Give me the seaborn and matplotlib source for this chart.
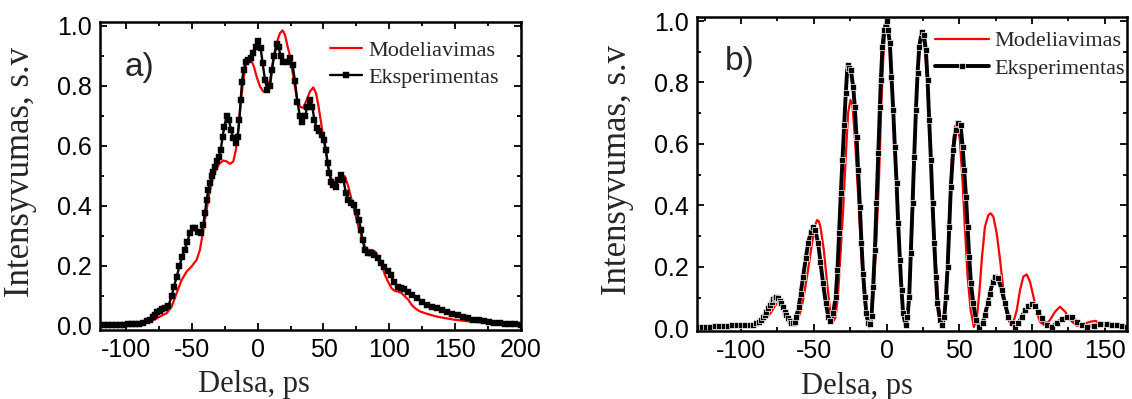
import numpy as np
import pandas as pd
import matplotlib
matplotlib.use("Agg")
import matplotlib.pyplot as plt
import seaborn as sns
from matplotlib.ticker import MultipleLocator

# ---------------- data ----------------
# Panel a) experiment (black, squares)
exp_a_x = [-120, -117, -114, -111, -108, -105, -102, -99, -96, -93, -90, -87, -84.5, -82, -80, -78.2, -76.3,
           -74.4, -72.5, -70.6, -68, -65.5, -63.7, -61.7, -59.6, -57.6, -55.6, -53.6, -51.6, -49.5, -47.5,
           -45.2, -43.2, -41.4, -40.2, -38.9, -37.6, -36.3, -35.1, -33.8, -32.6, -31.3, -29.5, -28.2, -26.7,
           -25.5, -23.7, -21.9, -20.4, -18.6, -16.8, -15.3, -14, -13, -12, -10.7, -9.2, -7.2, -5.2, -3.4,
           -1.6, 0.4, 2.2, 3.7, 5.5, 7.2, 9.3, 10.8, 12.3, 14.3, 15.9, 17.4, 19.4, 21.9, 24.5, 26.5, 28.3,
           30.2, 32.1, 33.9, 35.9, 37.7, 39.7, 41.5, 43, 44.8, 46.8, 48.6, 50.3, 51.9, 53.1, 54.4, 55.9, 57.4,
           59.2, 61.3, 63.3, 65.1, 67.1, 68.9, 70.9, 73.2, 75.2, 77, 78.5, 79.7, 81.5, 83.6, 86, 88.6, 91.2,
           93.7, 96.2, 98.8, 101.3, 103.8, 106.4, 108.9, 111.4, 114.5, 117.5, 120.8, 124.6, 128.4, 132.2,
           136, 140, 144, 148, 152, 156, 160, 164, 168, 172, 176, 180, 184, 188, 192, 196, 200]
exp_a_y = [0.002, 0.002, 0.003, 0.003, 0.003, 0.004, 0.004, 0.005, 0.005, 0.006, 0.007, 0.010, 0.015, 0.020,
           0.028, 0.037, 0.045, 0.051, 0.056, 0.059, 0.067, 0.098, 0.131, 0.164, 0.198, 0.231, 0.253, 0.281,
           0.309, 0.326, 0.326, 0.314, 0.309, 0.337, 0.376, 0.420, 0.453, 0.476, 0.498, 0.514, 0.531, 0.548,
           0.564, 0.587, 0.631, 0.664, 0.698, 0.687, 0.653, 0.626, 0.609, 0.631, 0.687, 0.753, 0.814, 0.853,
           0.881, 0.887, 0.892, 0.909, 0.931, 0.950, 0.926, 0.876, 0.820, 0.787, 0.798, 0.853, 0.898, 0.938,
           0.930, 0.898, 0.881, 0.881, 0.892, 0.870, 0.815, 0.745, 0.698, 0.681, 0.698, 0.731, 0.753, 0.731,
           0.687, 0.659, 0.648, 0.637, 0.620, 0.587, 0.542, 0.509, 0.481, 0.470, 0.464, 0.487, 0.503, 0.487,
           0.442, 0.420, 0.411, 0.403, 0.381, 0.353, 0.320, 0.287, 0.253, 0.242, 0.242, 0.237, 0.226, 0.209,
           0.195, 0.183, 0.168, 0.146, 0.128, 0.126, 0.122, 0.114, 0.103, 0.092, 0.081, 0.070, 0.064, 0.059,
           0.052, 0.045, 0.040, 0.035, 0.030, 0.025, 0.021, 0.018, 0.015, 0.013, 0.011, 0.009, 0.007, 0.006,
           0.005, 0.004]

# Panel a) model (red line)
mod_a_x = [-120, -110, -100, -90, -85, -82, -78, -74.4, -69.3, -65.5, -61.7, -57.9, -54.1, -50.3, -46.5, -44,
           -41.4, -38.9, -36.3, -33.8, -31.3, -28.8, -26.2, -23.7, -21.1, -18.6, -16.6, -14.8, -13, -11, -9.2,
           -7.2, -5.2, -2.9, -0.9, 1.7, 4.2, 6.7, 9.3, 11.8, 14.3, 16.9, 18.9, 20.7, 22.7, 24.5, 27, 29.5,
           32.1, 34.6, 37.2, 39.7, 42.2, 44.3, 46, 47.8, 49.8, 51.9, 53.7, 56.2, 58.7, 61.3, 63.8, 66.3, 68.9,
           71.4, 73.9, 76.5, 79, 81.5, 84, 86.6, 89.1, 91.7, 94.2, 96.7, 99.3, 101.8, 104.3, 106.9, 109.4,
           111.9, 114.5, 117, 119.5, 123.4, 127.2, 131, 136, 142, 150, 160, 170, 180, 190, 200]
mod_a_y = [0.001, 0.002, 0.003, 0.005, 0.009, 0.014, 0.022, 0.031, 0.042, 0.064, 0.109, 0.153, 0.181, 0.198,
           0.220, 0.253, 0.320, 0.387, 0.453, 0.498, 0.526, 0.542, 0.551, 0.548, 0.540, 0.548, 0.587, 0.653,
           0.742, 0.820, 0.864, 0.890, 0.887, 0.864, 0.831, 0.798, 0.781, 0.787, 0.820, 0.887, 0.942, 0.976,
           0.985, 0.970, 0.931, 0.900, 0.831, 0.764, 0.731, 0.726, 0.753, 0.781, 0.795, 0.776, 0.737, 0.687,
           0.631, 0.576, 0.531, 0.487, 0.476, 0.487, 0.503, 0.498, 0.464, 0.420, 0.376, 0.331, 0.298, 0.264,
           0.253, 0.253, 0.248, 0.231, 0.203, 0.170, 0.145, 0.125, 0.116, 0.114, 0.109, 0.098, 0.087, 0.070,
           0.059, 0.048, 0.042, 0.037, 0.031, 0.026, 0.020, 0.015, 0.011, 0.008, 0.006, 0.004]

# Panel b) experiment (black, squares)
exp_b_x = [-130, -127, -124, -121, -118, -115, -112, -109, -106, -103, -100, -97, -94, -91.5, -89.4, -87.5,
           -86, -84.8, -83.7, -82.5, -81.4, -80.2, -79, -77.9, -76.8, -75.6, -74.5, -73.3, -72.2, -71.1, -70,
           -68.8, -67.7, -66.5, -65.4, -64.2, -63, -62, -60.3, -59, -57.3, -55.5, -53.9, -52, -50.5, -48.9,
           -47, -45.4, -43.6, -41.7, -40, -38.5, -36.7, -34.9, -33.7, -32.6, -31.4, -30.3, -29.1, -28, -26.8,
           -25.7, -24.5, -22.9, -21.8, -20.6, -19.5, -18.3, -17.2, -16.1, -14.9, -13.8, -12.6, -11.5, -10.3,
           -9.2, -8, -6.9, -5.7, -4.6, -3.9, -2.8, -1.6, 0, 1.1, 2.3, 3.4, 4.6, 5.7, 6.9, 8, 9.2, 10.3, 11.4,
           13.1, 14.4, 15.6, 16.7, 17.9, 19, 20.2, 21.3, 22.5, 24.1, 25.7, 27, 28.2, 29.3, 30.5, 31.6, 32.8,
           33.9, 35, 36.7, 38.2, 39.7, 40.8, 42, 43.1, 44.2, 45.8, 47.4, 49.3, 50.9, 52.3, 53.4, 54.6, 55.7,
           56.8, 58, 59.6, 61.4, 63.7, 66, 67.6, 69.5, 71, 72.9, 74.5, 76.8, 79.1, 81.4, 83.7, 86, 88.3, 90.6,
           92.9, 95.2, 97.5, 99.8, 102.1, 104.4, 106.6, 110.1, 113.5, 117, 120.4, 123.9, 127.3, 130.7, 134.2,
           137.6, 142.2, 146.8, 151.4, 155, 158.3, 161.5, 165]
exp_b_y = [0.004, 0.004, 0.005, 0.005, 0.006, 0.006, 0.007, 0.008, 0.009, 0.010, 0.010, 0.010, 0.010, 0.012,
           0.016, 0.021, 0.027, 0.035, 0.043, 0.054, 0.065, 0.076, 0.086, 0.094, 0.100, 0.101, 0.097, 0.090,
           0.081, 0.068, 0.054, 0.043, 0.032, 0.024, 0.018, 0.017, 0.021, 0.037, 0.070, 0.113, 0.168, 0.227,
           0.276, 0.314, 0.328, 0.320, 0.276, 0.217, 0.146, 0.081, 0.037, 0.024, 0.048, 0.103, 0.190, 0.309,
           0.439, 0.547, 0.661, 0.765, 0.857, 0.846, 0.840, 0.786, 0.721, 0.623, 0.515, 0.396, 0.276, 0.178,
           0.103, 0.048, 0.016, 0.015, 0.040, 0.135, 0.255, 0.406, 0.569, 0.720, 0.808, 0.916, 0.970, 1.000,
           0.970, 0.927, 0.819, 0.710, 0.591, 0.472, 0.341, 0.222, 0.124, 0.048, 0.010, 0.037, 0.103, 0.244,
           0.406, 0.558, 0.710, 0.830, 0.916, 0.965, 0.955, 0.906, 0.808, 0.678, 0.547, 0.406, 0.276, 0.168,
           0.081, 0.027, 0.010, 0.037, 0.103, 0.200, 0.330, 0.460, 0.580, 0.645, 0.667, 0.660, 0.590, 0.515,
           0.428, 0.330, 0.233, 0.146, 0.081, 0.027, 0.005, 0.016, 0.043, 0.081, 0.113, 0.150, 0.168, 0.162,
           0.124, 0.081, 0.037, 0.016, 0.005, 0.016, 0.037, 0.059, 0.073, 0.079, 0.072, 0.054, 0.032, 0.010,
           0.005, 0.016, 0.029, 0.037, 0.035, 0.021, 0.010, 0.005, 0.008, 0.014, 0.014, 0.012, 0.009, 0.007,
           0.005]

# Panel b) model (red line)
mod_b_x = [-130, -120, -110, -100, -92, -88, -84.9, -82, -79, -76.8, -74.5, -72.5, -71, -69.3, -67.7, -66,
           -64.2, -62.5, -60.8, -59, -57.3, -55.6, -53.9, -52.2, -50.5, -49, -47.7, -46.5, -45.4, -43.1,
           -40.8, -38.5, -36.7, -34.9, -33.3, -31.7, -29.8, -28, -26.4, -24.8, -23.4, -21.8, -20.2, -18.3,
           -16.5, -14.9, -13.3, -11.9, -10.3, -8.7, -6.9, -5.1, -3.7, -2.3, -0.9, 0.4, 1.8, 3.2, 4.6, 6.4, 8,
           9.6, 11.4, 13.3, 15.1, 16.7, 18.3, 19.9, 21.5, 23.1, 24.7, 26.3, 27.9, 29.8, 31.6, 33.5, 35.3,
           37.1, 39, 40.6, 42, 43.6, 45.2, 47, 48.6, 50.4, 52.3, 53.9, 55.7, 57.8, 60, 61.9, 63.7, 65.6,
           67.6, 69.9, 71.5, 73.4, 75.7, 78, 80.3, 82.5, 84.8, 87.2, 89.5, 91.7, 94, 96.3, 98.6, 100.9,
           103.2, 105.4, 108.9, 112.3, 115.8, 119.2, 122.7, 126.1, 130.7, 135.3, 139.9, 143.4, 148, 153.7,
           160, 165]
mod_b_y = [0.002, 0.003, 0.005, 0.007, 0.010, 0.014, 0.021, 0.035, 0.054, 0.072, 0.086, 0.083, 0.076, 0.060,
           0.043, 0.030, 0.021, 0.022, 0.032, 0.055, 0.092, 0.140, 0.190, 0.245, 0.298, 0.335, 0.352, 0.348,
           0.330, 0.255, 0.146, 0.048, 0.021, 0.037, 0.113, 0.233, 0.385, 0.559, 0.700, 0.743, 0.727, 0.623,
           0.493, 0.330, 0.178, 0.081, 0.021, 0.003, 0.030, 0.130, 0.298, 0.495, 0.710, 0.873, 0.970, 0.990,
           0.949, 0.851, 0.710, 0.526, 0.341, 0.178, 0.048, 0.003, 0.059, 0.211, 0.428, 0.656, 0.840, 0.938,
           0.954, 0.916, 0.808, 0.623, 0.428, 0.244, 0.103, 0.021, 0.005, 0.081, 0.233, 0.428, 0.580, 0.656,
           0.667, 0.613, 0.472, 0.320, 0.168, 0.059, 0.004, 0.027, 0.113, 0.233, 0.330, 0.368, 0.374, 0.363,
           0.309, 0.222, 0.124, 0.048, 0.016, 0.021, 0.059, 0.124, 0.168, 0.175, 0.151, 0.103, 0.054, 0.021,
           0.008, 0.027, 0.054, 0.070, 0.054, 0.027, 0.008, 0.014, 0.021, 0.024, 0.014, 0.008, 0.006, 0.005]

x_ticks_a = [-100, -50, 0, 50, 100, 150, 200]
x_ticks_b = [-100, -50, 0, 50, 100, 150]
y_ticks = [0.0, 0.2, 0.4, 0.6, 0.8, 1.0]
label_model = "Modeliavimas"
label_exp = "Eksperimentas"
x_label = "Delsa, ps"
y_label = "Intensyvumas, s.v"

# ---------------- style ----------------
sns.set_style("ticks")
plt.rcParams["font.family"] = ["Liberation Sans", "DejaVu Sans"]
SERIF = ["Liberation Serif", "DejaVu Serif"]

fig = plt.figure(figsize=(11.32, 3.99), dpi=100)
ax_a = fig.add_axes([100 / 1132, 1 - 330 / 399, 420.7 / 1132, 308.3 / 399])
ax_b = fig.add_axes([697.3 / 1132, 1 - 331 / 399, 429.4 / 1132, 314.3 / 399])

df_exp_a = pd.DataFrame({"x": exp_a_x, "y": exp_a_y})
df_mod_a = pd.DataFrame({"x": mod_a_x, "y": mod_a_y})
df_exp_b = pd.DataFrame({"x": exp_b_x, "y": exp_b_y})
df_mod_b = pd.DataFrame({"x": mod_b_x, "y": mod_b_y})

sns.lineplot(data=df_mod_a, x="x", y="y", ax=ax_a, color="#ff0000", lw=1.6, label=label_model)
sns.lineplot(data=df_exp_a, x="x", y="y", ax=ax_a, color="black", lw=1.7, marker="s",
             markersize=4.0, markeredgecolor="black", markeredgewidth=0.3, label=label_exp)

sns.lineplot(data=df_mod_b, x="x", y="y", ax=ax_b, color="#ff0000", lw=1.6, label=label_model)
sns.lineplot(data=df_exp_b, x="x", y="y", ax=ax_b, color="black", lw=2.8, marker="s",
             markersize=4.4, markeredgecolor="white", markeredgewidth=0.5, label=label_exp)

configs = [
    (ax_a, (-120, 200), (-0.014, 1.014), x_ticks_a, "a)", (0.059, 0.853), 0.367, -0.15,
     (0.547, 0.94), 1.45),
    (ax_b, (-130, 165), (-0.009, 1.014), x_ticks_b, "b)", (0.0645, 0.859), 0.372, -0.147,
     (0.554, 0.955), 2.4),
]

for ax, xl, yl, xt, tag, tagpos, xlab_x, ylab_x, legpos, hl in configs:
    ax.set_xlim(*xl)
    ax.set_ylim(*yl)
    ax.set_xticks(xt)
    ax.set_yticks(y_ticks)
    ax.xaxis.set_minor_locator(MultipleLocator(25))
    ax.yaxis.set_minor_locator(MultipleLocator(0.1))
    ax.set_xticklabels([str(v) for v in xt], fontsize=18)
    ax.set_yticklabels([f"{v:.1f}" for v in y_ticks], fontsize=18)
    ax.tick_params(which="both", direction="in", top=True, right=True, width=1.3, colors="black")
    ax.tick_params(which="major", length=5, pad=6)
    ax.tick_params(which="minor", length=3)
    for s in ax.spines.values():
        s.set_linewidth(1.8)
        s.set_color("black")
        s.set_visible(True)
    ax.set_xlabel(x_label, fontsize=22, family=SERIF)
    ax.set_ylabel(y_label, fontsize=25, family=SERIF)
    ax.xaxis.set_label_coords(xlab_x, -0.13)
    ax.yaxis.set_label_coords(ylab_x, 0.511)
    ax.text(tagpos[0], tagpos[1], tag, transform=ax.transAxes, fontsize=24,
            ha="left", va="center", family=["Liberation Sans", "DejaVu Sans"])
    ax.legend(loc="upper left", bbox_to_anchor=legpos, frameon=False,
              prop={"family": SERIF, "size": 16}, handlelength=hl, handletextpad=0.25,
              borderpad=0, borderaxespad=0, labelspacing=0.3)

fig.savefig("out.png", dpi=100)
